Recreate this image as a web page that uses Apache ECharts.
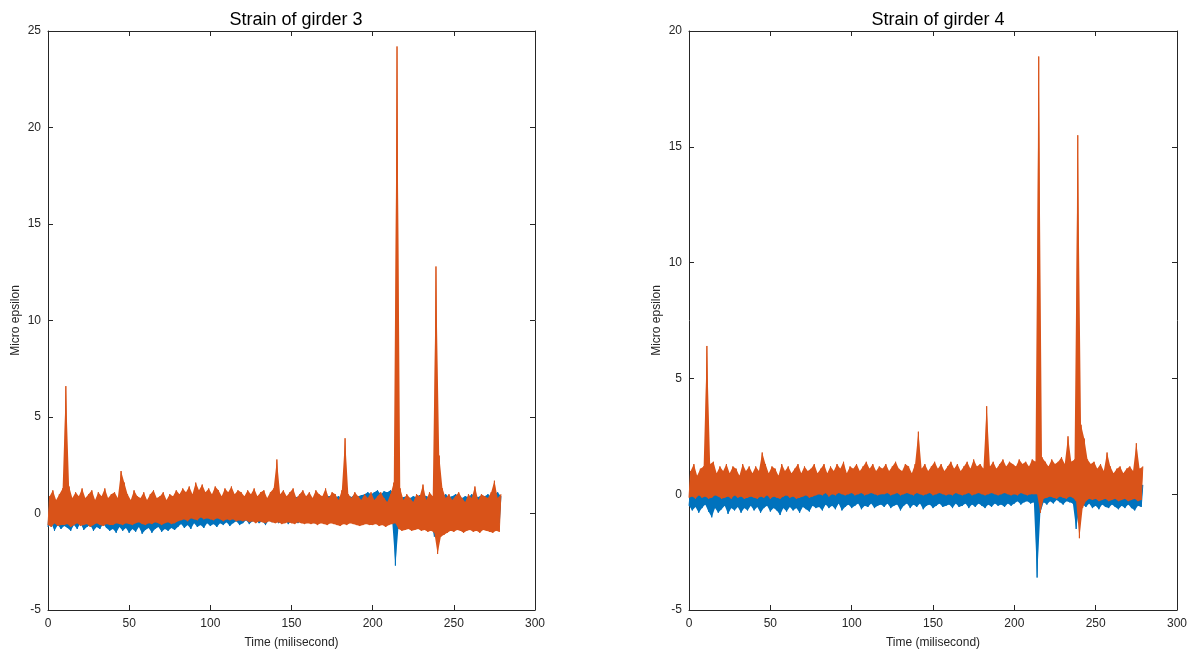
<!DOCTYPE html>
<html>
<head>
<meta charset="utf-8">
<script src="https://cdn.jsdelivr.net/npm/echarts@6/dist/echarts.min.js"></script>
<style>html,body{margin:0;padding:0;background:#fff}#c{width:1197px;height:655px}</style>
</head>
<body>
<div id="c"></div>
<script>
// Sample step: each index i covers x = 2i (low value) and x = 2i+1 (high value), milliseconds
var titles = ['Strain of girder 3', 'Strain of girder 4'];
var xName = 'Time (milisecond)';
var yName = 'Micro epsilon';
var xTicks = [0, 300, 50];
var yTicksL = [-5, 25, 5];
var yTicksR = [-5, 20, 5];

// Girder 3, blue series (low / high envelope)
var g3BlueLo = [-0.7,-0.5,-0.9,-0.6,-0.8,-0.65,-0.75,-0.9,-0.6,-0.8,-0.5,-0.85,-0.7,-0.6,-0.9,-0.7,-0.8,-0.55,-0.75,-0.9,
-0.8,-1.0,-0.7,-0.9,-0.75,-1.0,-0.8,-0.95,-0.7,-1.05,-0.85,-0.75,-1.0,-0.8,-0.7,-0.95,-0.8,-0.9,-0.75,-0.85,
-0.7,-0.55,-0.75,-0.6,-0.8,-0.5,-0.7,-0.6,-0.75,-0.5,-0.65,-0.55,-0.7,-0.5,-0.6,-0.45,-0.65,-0.5,-0.4,-0.6,
-0.5,-0.35,-0.55,-0.4,-0.3,-0.5,-0.4,-0.6,-0.35,-0.45,-0.3,-0.5,-0.4,-0.3,-0.55,-0.4,-0.35,-0.5,-0.3,-0.45,
-0.4,-0.3,-0.5,-0.35,-0.45,-0.3,-0.5,-0.4,-0.35,-0.3,-0.45,-0.35,-0.5,-0.3,-0.4,-0.35,-0.3,-0.45,-0.35,-0.3,
-0.3,-0.2,-0.3,-0.25,-0.2,-0.3,-0.35,-2.7,-0.6,-0.4,-0.45,-0.35,-0.4,-0.5,-0.4,-0.35,-0.45,-0.4,-0.5,-1.2,
-0.6,-0.5,-0.45,-0.5,-0.4,-0.55,-0.45,-0.5,-0.4,-0.45,-0.55,-0.5,-0.4,-0.45,-0.5,-0.55,-0.45,-0.5,-0.55,-0.5];
var g3BlueHi = [0.5,0.6,0.45,0.55,0.6,0.5,0.4,0.55,0.5,0.6,0.45,0.5,0.55,0.4,0.5,0.6,0.45,0.5,0.55,0.4,
0.3,0.4,0.25,0.35,0.3,0.4,0.2,0.35,0.3,0.25,0.4,0.3,0.35,0.3,0.25,0.4,0.3,0.35,0.4,0.45,
0.5,0.45,0.6,0.5,0.55,0.6,0.5,0.65,0.55,0.6,0.7,0.6,0.55,0.65,0.7,0.6,0.65,0.7,0.6,0.7,
0.7,0.8,0.75,0.7,0.85,0.8,0.9,0.75,0.8,0.85,0.9,0.8,0.75,0.85,1.0,0.8,0.85,0.9,0.8,0.85,
0.9,0.8,0.85,0.9,0.8,0.85,0.9,0.95,0.85,0.9,0.8,0.9,0.95,0.85,1.0,0.9,0.95,1.0,1.1,1.0,
1.1,1.2,1.0,1.15,1.1,1.2,1.1,0.9,0.8,0.85,0.9,0.8,0.9,0.85,0.95,1.0,0.9,0.85,0.8,0.7,
0.8,0.9,1.0,0.85,0.9,1.0,0.95,0.8,0.9,0.85,1.0,0.9,0.85,0.95,0.9,1.0,0.85,1.0,1.1,0.9];
// Girder 3, orange series
var g3OrangeLo = [-0.6,-0.7,-0.5,-0.65,-0.6,-0.6,-0.55,-0.7,-0.6,-0.5,-0.65,-0.6,-0.55,-0.7,-0.6,-0.5,-0.6,-0.65,-0.55,-0.6,
-0.6,-0.5,-0.55,-0.6,-0.5,-0.55,-0.6,-0.5,-0.45,-0.55,-0.6,-0.5,-0.55,-0.45,-0.5,-0.6,-0.5,-0.45,-0.55,-0.5,
-0.4,-0.35,-0.3,-0.4,-0.25,-0.3,-0.35,-0.2,-0.3,-0.25,-0.3,-0.35,-0.25,-0.3,-0.4,-0.3,-0.35,-0.3,-0.4,-0.35,
-0.4,-0.35,-0.45,-0.4,-0.5,-0.4,-0.45,-0.5,-0.4,-0.45,-0.5,-0.45,-0.55,-0.5,-0.45,-0.5,-0.55,-0.45,-0.5,-0.55,
-0.5,-0.55,-0.5,-0.6,-0.5,-0.55,-0.6,-0.5,-0.55,-0.6,-0.65,-0.55,-0.6,-0.5,-0.55,-0.6,-0.65,-0.6,-0.55,-0.6,
-0.6,-0.55,-0.65,-0.6,-0.7,-0.6,-0.55,-0.5,-0.8,-0.9,-0.85,-0.8,-0.9,-0.85,-0.8,-0.9,-0.85,-0.95,-0.9,-1.0,
-2.1,-1.2,-1.1,-1.0,-0.9,-0.95,-0.85,-0.9,-1.0,-0.9,-0.85,-0.95,-0.9,-1.0,-0.85,-0.9,-0.95,-1.0,-0.9,-0.95];
var g3OrangeHi = [0.9,1.2,0.7,1.0,1.3,6.6,1.4,0.8,1.1,0.9,1.3,0.8,1.0,1.2,0.7,1.1,0.9,1.3,0.8,1.0,
1.1,0.8,2.2,1.6,1.0,0.7,1.2,0.9,0.8,1.1,0.7,1.0,1.2,0.8,0.9,1.1,0.7,1.0,0.9,1.2,
1.0,1.3,1.1,1.4,1.0,1.6,1.2,1.5,1.1,1.3,1.0,1.4,1.2,0.9,1.3,1.1,1.4,1.0,1.2,1.1,
0.9,1.2,1.0,1.3,0.9,1.1,1.2,0.8,1.1,1.3,2.8,1.0,1.2,0.9,1.1,1.3,0.8,1.0,1.2,0.9,
1.1,0.8,1.2,1.0,0.9,1.3,0.8,1.1,1.0,0.7,1.2,3.9,1.0,0.8,1.1,0.9,0.7,1.0,0.8,1.1,
0.7,0.9,1.1,0.8,0.6,1.0,1.6,24.2,1.3,0.7,1.0,0.8,0.6,1.0,0.9,1.5,0.7,1.1,0.9,12.8,
3.0,1.3,0.8,1.0,0.7,0.9,1.1,0.8,0.6,1.0,0.8,1.4,0.7,1.0,0.9,0.8,1.1,1.7,0.8,1.0];

// Girder 4, blue series
var g4BlueLo = [-0.5,-0.7,-0.55,-0.8,-0.6,-0.45,-0.75,-1.0,-0.6,-0.8,-0.65,-0.5,-0.85,-0.6,-0.7,-0.55,-0.8,-0.6,-0.7,-0.5,
-0.7,-0.55,-0.8,-0.6,-0.5,-0.75,-0.6,-0.7,-0.9,-0.6,-0.75,-0.55,-0.7,-0.6,-0.8,-0.55,-0.65,-0.75,-0.5,-0.6,
-0.55,-0.7,-0.45,-0.6,-0.5,-0.65,-0.4,-0.7,-0.55,-0.45,-0.6,-0.5,-0.4,-0.65,-0.5,-0.55,-0.4,-0.6,-0.5,-0.45,
-0.55,-0.4,-0.6,-0.5,-0.45,-0.7,-0.5,-0.4,-0.6,-0.45,-0.55,-0.4,-0.65,-0.5,-0.45,-0.6,-0.5,-0.4,-0.55,-0.5,
-0.45,-0.6,-0.4,-0.55,-0.5,-0.4,-0.6,-0.45,-0.55,-0.4,-0.5,-0.6,-0.45,-0.55,-0.4,-0.5,-0.45,-0.55,-0.4,-0.5,
-0.4,-0.3,-0.45,-0.35,-0.3,-0.4,-0.35,-3.6,-0.8,-0.35,-0.45,-0.3,-0.4,-0.25,-0.35,-0.45,-0.3,-0.35,-0.4,-1.5,
-0.6,-0.45,-0.55,-0.4,-0.6,-0.5,-0.65,-0.45,-0.55,-0.6,-0.45,-0.55,-0.65,-0.5,-0.6,-0.45,-0.6,-0.7,-0.5,-0.55];
var g4BlueHi = [0.2,0.3,0.25,0.2,0.3,0.25,0.2,0.3,0.25,0.3,0.2,0.25,0.3,0.2,0.25,0.3,0.2,0.25,0.3,0.2,
0.25,0.2,0.3,0.25,0.2,0.3,0.25,0.2,0.3,0.25,0.2,0.3,0.25,0.2,0.25,0.3,0.2,0.25,0.2,0.3,
0.3,0.25,0.3,0.35,0.3,0.25,0.3,0.45,0.3,0.25,0.3,0.35,0.3,0.25,0.3,0.35,0.3,0.3,0.35,0.3,
0.35,0.3,0.35,0.3,0.4,0.35,0.3,0.35,0.4,0.35,0.3,0.35,0.4,0.35,0.3,0.35,0.4,0.35,0.3,0.35,
0.4,0.35,0.4,0.35,0.4,0.35,0.4,0.35,0.4,0.35,0.4,0.6,0.4,0.35,0.4,0.35,0.4,0.35,0.4,0.35,
0.4,0.45,0.4,0.45,0.4,0.45,0.4,0.5,0.4,0.45,0.4,0.45,0.4,0.45,0.5,0.4,0.45,0.4,0.45,0.5,
0.45,0.4,0.45,0.4,0.45,0.4,0.45,0.4,0.45,0.4,0.45,0.4,0.45,0.4,0.45,0.4,0.45,0.4,0.45,0.4];
// Girder 4, orange series
var g4OrangeLo = [-0.15,-0.1,-0.2,-0.05,-0.15,-0.1,-0.2,-0.15,-0.05,-0.1,-0.2,-0.15,-0.1,-0.2,-0.05,-0.15,-0.1,-0.2,-0.15,-0.1,
-0.15,-0.2,-0.1,-0.15,-0.05,-0.2,-0.1,-0.15,-0.2,-0.1,-0.05,-0.15,-0.1,-0.2,-0.15,-0.1,-0.05,-0.15,-0.1,-0.05,
0.0,-0.05,0.05,-0.1,0.0,-0.05,0.05,0.0,-0.05,0.0,0.05,-0.05,0.0,0.05,-0.05,0.0,0.05,0.0,-0.05,0.0,
0.0,0.05,-0.05,0.0,0.05,-0.05,0.0,0.05,0.0,-0.05,0.05,0.0,-0.05,0.0,0.05,-0.05,0.0,0.05,0.0,-0.05,
0.0,-0.05,0.05,0.0,-0.05,0.0,0.05,-0.05,0.0,0.05,0.0,-0.05,0.0,0.05,0.0,-0.05,0.0,0.05,0.0,-0.05,
0.0,-0.05,0.05,0.0,-0.05,0.0,0.0,0.0,-0.8,-0.2,-0.15,-0.1,-0.15,-0.2,-0.1,-0.15,-0.2,-0.1,-0.15,-0.3,
-1.9,-0.6,-0.3,-0.2,-0.25,-0.2,-0.3,-0.25,-0.2,-0.3,-0.25,-0.2,-0.3,-0.25,-0.2,-0.3,-0.25,-0.2,-0.3,-0.25];
var g4OrangeHi = [1.0,1.3,0.8,1.1,1.2,6.4,1.3,1.4,0.9,1.2,1.0,1.3,0.9,1.2,1.1,0.8,1.3,1.0,1.2,0.9,
1.2,1.0,1.8,1.3,0.9,1.2,1.1,0.8,1.3,1.0,1.2,0.9,1.1,1.3,0.9,1.2,1.0,1.1,1.3,0.9,
1.1,1.3,0.9,1.2,1.0,1.3,1.1,1.4,0.9,1.2,1.1,1.3,1.0,1.2,1.4,1.1,1.3,1.0,1.2,1.1,
1.3,1.0,1.2,1.4,1.1,1.0,1.3,1.2,0.9,1.3,2.7,1.1,1.3,1.0,1.2,1.4,1.1,1.3,1.0,1.2,
1.4,1.1,1.3,1.0,1.2,1.4,1.1,1.5,1.2,1.3,1.1,3.8,1.2,1.4,1.1,1.3,1.5,1.2,1.4,1.3,
1.2,1.5,1.3,1.4,1.2,1.5,1.4,18.9,1.6,1.4,1.2,1.5,1.3,1.4,1.6,1.3,2.5,1.4,1.5,15.5,
3.0,2.4,1.5,1.3,1.4,1.1,1.3,1.0,1.8,1.2,0.9,1.1,1.2,0.9,1.1,1.2,1.0,2.2,1.1,1.2];

function zig(lo, hi) {
  var out = [];
  for (var i = 0; i < lo.length; i++) {
    out.push([2 * i, lo[i]]);
    out.push([2 * i + 1, hi[i]]);
  }
  return out;
}

var FONT = '"Liberation Sans", Arial, sans-serif';
var AX = '#262626';
var grids = [
  {left: 48, top: 31, width: 487, height: 579},
  {left: 689, top: 31, width: 488, height: 579}
];
function xAx(g, pos, main) {
  return {
    type: 'value', gridIndex: g, position: pos, min: xTicks[0], max: xTicks[1], interval: xTicks[2],
    name: main ? xName : '', nameLocation: 'middle', nameGap: 27,
    nameTextStyle: {color: AX, fontSize: 12, fontFamily: FONT},
    axisLine: {show: true, onZero: false, lineStyle: {color: AX, width: 1}},
    axisTick: {show: true, inside: true, length: 5, lineStyle: {color: AX}},
    axisLabel: {show: main, color: AX, fontSize: 12, fontFamily: FONT, margin: 8},
    splitLine: {show: false}
  };
}
function yAx(g, pos, main, t) {
  return {
    type: 'value', gridIndex: g, position: pos, min: t[0], max: t[1], interval: t[2],
    name: main ? yName : '', nameLocation: 'middle', nameGap: 26,
    nameTextStyle: {color: AX, fontSize: 12, fontFamily: FONT},
    axisLine: {show: true, onZero: false, lineStyle: {color: AX, width: 1}},
    axisTick: {show: true, inside: true, length: 5, lineStyle: {color: AX}},
    axisLabel: {show: main, color: AX, fontSize: 12, fontFamily: FONT, margin: 7},
    splitLine: {show: false}
  };
}
function ser(xi, yi, data, color, z) {
  return {
    type: 'line', xAxisIndex: xi, yAxisIndex: yi, data: data, showSymbol: false, symbol: 'none', z: z,
    animation: false, lineStyle: {color: color, width: 1}, itemStyle: {color: color}
  };
}
// filled band between low and high envelopes, placed through the axis scales
function band(xi, yi, lo, hi, color, z) {
  return {
    type: 'custom', xAxisIndex: xi, yAxisIndex: yi, data: [[0, 0]], animation: false, silent: true, z: z,
    renderItem: function (params, api) {
      var pts = [];
      for (var i = 0; i < lo.length; i++) pts.push(api.coord([2 * i, lo[i]]));
      for (var j = hi.length - 1; j >= 0; j--) pts.push(api.coord([2 * j + 1, hi[j]]));
      return {type: 'polygon', shape: {points: pts}, style: {fill: color, stroke: null}};
    }
  };
}
var chart = echarts.init(document.getElementById('c'), null, {renderer: 'canvas'});
chart.setOption({
  backgroundColor: '#fff',
  animation: false,
  title: [
    {text: titles[0], left: 291, top: 6, textAlign: 'center', textStyle: {fontSize: 18, fontWeight: 'normal', color: '#000', fontFamily: FONT}},
    {text: titles[1], left: 933, top: 6, textAlign: 'center', textStyle: {fontSize: 18, fontWeight: 'normal', color: '#000', fontFamily: FONT}}
  ],
  grid: grids,
  xAxis: [xAx(0, 'bottom', true), xAx(1, 'bottom', true), xAx(0, 'top', false), xAx(1, 'top', false)],
  yAxis: [yAx(0, 'left', true, yTicksL), yAx(1, 'left', true, yTicksR), yAx(0, 'right', false, yTicksL), yAx(1, 'right', false, yTicksR)],
  series: [
    band(0, 0, g3BlueLo, g3BlueHi, '#0072BD', 2),
    ser(0, 0, zig(g3BlueLo, g3BlueHi), '#0072BD', 3),
    band(0, 0, g3OrangeLo, g3OrangeHi, '#D95319', 4),
    ser(0, 0, zig(g3OrangeLo, g3OrangeHi), '#D95319', 5),
    band(1, 1, g4BlueLo, g4BlueHi, '#0072BD', 2),
    ser(1, 1, zig(g4BlueLo, g4BlueHi), '#0072BD', 3),
    band(1, 1, g4OrangeLo, g4OrangeHi, '#D95319', 4),
    ser(1, 1, zig(g4OrangeLo, g4OrangeHi), '#D95319', 5)
  ]
});
</script>
</body>
</html>
